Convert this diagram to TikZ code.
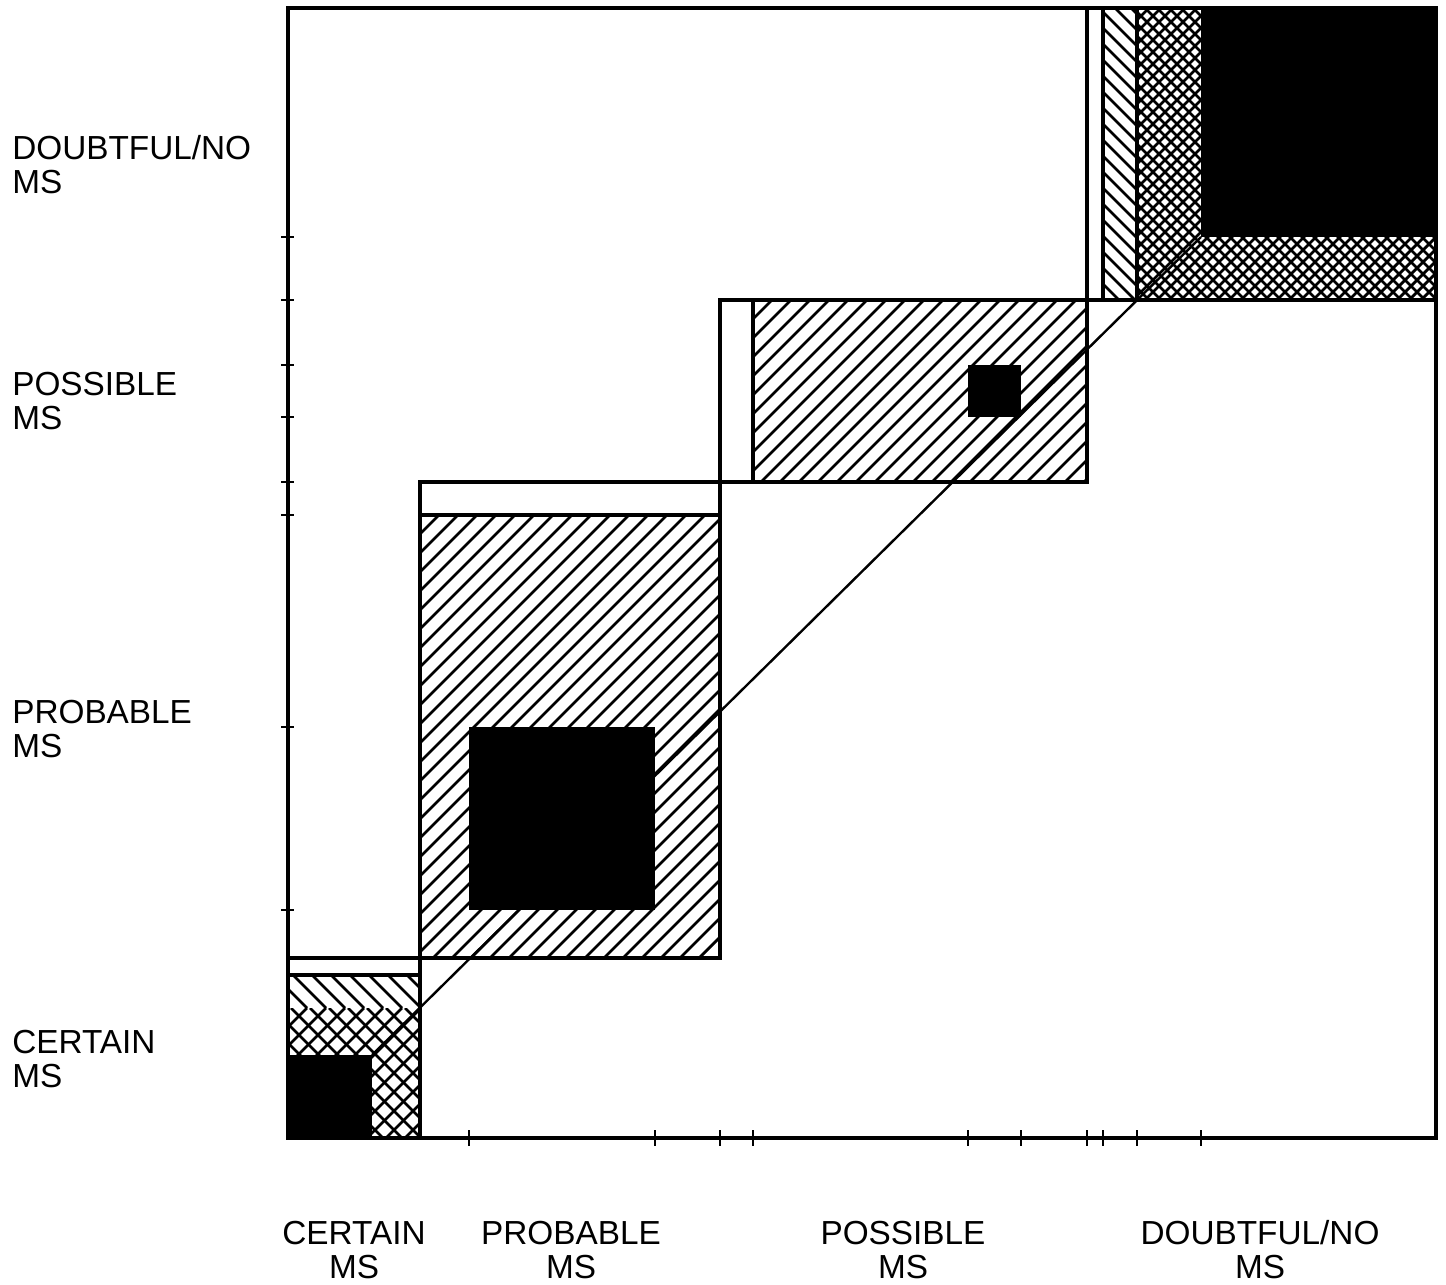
\documentclass[tikz,border=0pt]{standalone}
\usepackage{fontspec}
\setmainfont{Liberation Sans}
\newcommand\hatchfwd[5]{%
  \begin{scope}
    \clip (#1,#2) rectangle (#3,#4);
    \pgfmathsetmacro\hcA{#1+#2}
    \pgfmathsetmacro\hcB{#1+#2+#5}
    \pgfmathsetmacro\hcE{#3+#4}
    \foreach \c in {\hcA,\hcB,...,\hcE} \draw[hatchline] (\c-#4,#4) -- (\c-#2,#2);
  \end{scope}}
\newcommand\hatchbwd[5]{%
  \begin{scope}
    \clip (#1,#2) rectangle (#3,#4);
    \pgfmathsetmacro\hcA{#1-#4}
    \pgfmathsetmacro\hcB{#1-#4+#5}
    \pgfmathsetmacro\hcE{#3-#2}
    \foreach \c in {\hcA,\hcB,...,\hcE} \draw[hatchline] (\c+#2,#2) -- (\c+#4,#4);
  \end{scope}}
\begin{document}
\begin{tikzpicture}[x=0.75pt,y=-0.75pt]
\tikzset{
  frame/.style={line width=2.7pt},
  box/.style={line width=2.5pt},
  hatchline/.style={line width=2.1pt},
  axtick/.style={line width=1.8pt},
  diag/.style={line width=1.8pt},
  lab/.style={font=\fontsize{25}{25.5}\selectfont, inner sep=0pt},
}
\useasboundingbox[fill=white] (0,0) rectangle (1446,1285);
% certain
\hatchbwd{288}{975}{420}{1008}{19}
\hatchfwd{288}{1008}{420}{1138}{19}
\hatchbwd{288}{1008}{420}{1138}{19}
% probable
\hatchfwd{420}{515}{720}{958}{19}
% possible
\hatchfwd{753}{300}{1087}{482}{19}
% doubtful
\hatchbwd{1103}{8}{1137}{300}{16}
\hatchfwd{1137}{8}{1436}{300}{12}
\hatchbwd{1137}{8}{1436}{300}{12}
% black squares
\fill (288,1055) rectangle (372,1138);
\fill (469,727) rectangle (655,910);
\fill (968,365) rectangle (1021,417);
\fill (1201,8) rectangle (1436,237);
% borders
\draw[box] (288,958) rectangle (420,1138);
\draw[box] (288,975) -- (420,975);
\draw[box] (420,482) rectangle (720,958);
\draw[box] (420,515) -- (720,515);
\draw[box] (720,300) rectangle (1087,482);
\draw[box] (753,300) -- (753,482);
\draw[box] (1087,8) rectangle (1436,300);
\draw[box] (1103,8) -- (1103,300);
\draw[box] (1137,8) -- (1137,300);
% diagonal
\coordinate (dA) at (372,1055);
\coordinate (dB) at (1201,237);
\draw[diag] (dA) -- (dB);
% frame
\draw[frame] (288,8) rectangle (1436,1138);
\foreach \t in {237,300,365,417,482,515,727,910} \draw[axtick] (281,\t) -- (294,\t);
\foreach \t in {469,655,720,753,968,1021,1087,1103,1137,1201} \draw[axtick] (\t,1130) -- (\t,1146);
% labels
\node[lab, anchor=base west, align=left] (ldoubt) at (12,193) {DOUBTFUL/NO\\MS};
\node[lab, anchor=base west, align=left] (lposs) at (12,429) {POSSIBLE\\MS};
\node[lab, anchor=base west, align=left] (lprob) at (12,757) {PROBABLE\\MS};
\node[lab, anchor=base west, align=left] (lcert) at (12,1087) {CERTAIN\\MS};
\node[lab, anchor=base, align=center] (bcert) at (354,1278) {CERTAIN\\MS};
\node[lab, anchor=base, align=center] (bprob) at (571,1278) {PROBABLE\\MS};
\node[lab, anchor=base, align=center] (bposs) at (903,1278) {POSSIBLE\\MS};
\node[lab, anchor=base, align=center] (bdoubt) at (1260,1278) {DOUBTFUL/NO\\MS};
\end{tikzpicture}
\end{document}
